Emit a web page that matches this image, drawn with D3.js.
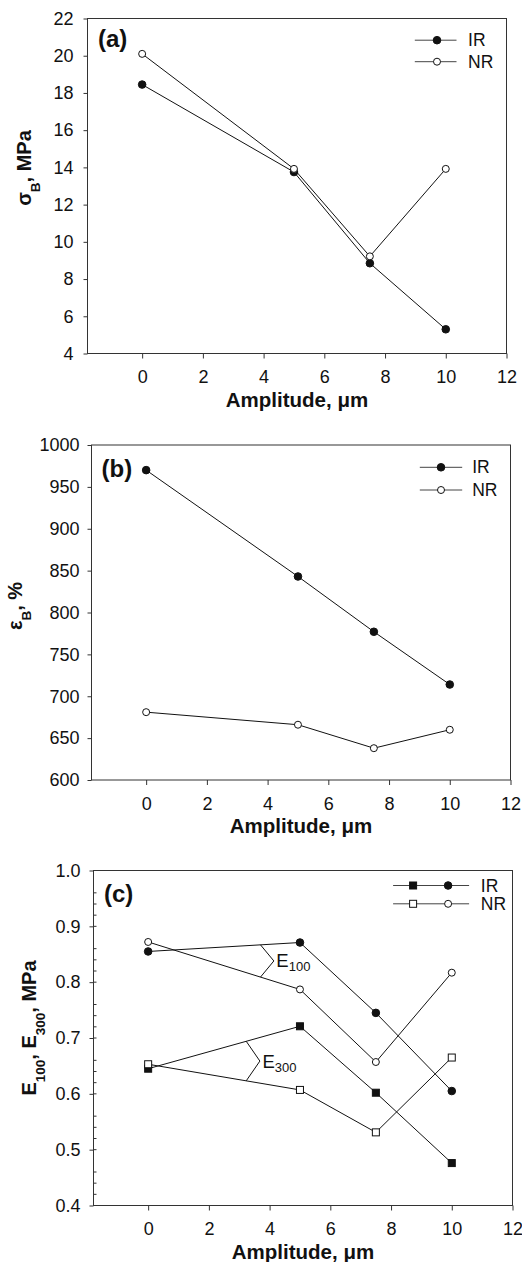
<!DOCTYPE html>
<html>
<head>
<meta charset="utf-8">
<script src="https://cdn.jsdelivr.net/npm/d3@7"></script>
<style>
  body { margin: 0; background: #fff; }
  svg { display: block; font-family: "Liberation Sans", Arial, Helvetica, sans-serif; }
</style>
</head>
<body>
<div id="chart"></div>
<script>
const width = 522,
  height = 1262,
  plotW = 419,
  plotH = 335;

// amplitude, µm
const amplitude = [0, 5, 7.5, 10];

// (a) tensile strength, MPa
const sigmaIR = [18.45, 13.75, 8.85, 5.3];
const sigmaNR = [20.1, 13.92, 9.22, 13.92];

// (b) elongation at break, %
const epsIR = [970, 843, 777, 714];
const epsNR = [681, 666, 638, 660];

// (c) moduli, MPa
const e100IR = [0.855, 0.871, 0.745, 0.605];
const e100NR = [0.872, 0.787, 0.657, 0.817];
const e300IR = [0.645, 0.721, 0.602, 0.476];
const e300NR = [0.653, 0.607, 0.531, 0.665];

const xTicks = [0, 2, 4, 6, 8, 10, 12];
const yTicksA = [4, 6, 8, 10, 12, 14, 16, 18, 20, 22];
const yTicksB = [600, 650, 700, 750, 800, 850, 900, 950, 1000];
const yTicksC = [0.4, 0.5, 0.6, 0.7, 0.8, 0.9, 1.0];

const ink = "#111";

const svg = d3.select("#chart")
  .append("svg")
  .attr("width", width)
  .attr("height", height);

function drawPanel(p) {
  const g = svg.append("g")
    .attr("transform", "translate(" + p.left + "," + p.top + ")");

  const x = d3.scaleLinear().domain([-1.8, 12]).range([0, plotW]);
  const y = d3.scaleLinear().domain(p.yDomain).range([plotH, 0]);

  // x axis
  const xa = g.append("g")
    .attr("transform", "translate(0," + plotH + ")")
    .call(d3.axisBottom(x).tickValues(xTicks).tickSize(5).tickSizeOuter(0).tickPadding(12));
  // y axis
  const ya = g.append("g")
    .call(d3.axisLeft(y).tickValues(p.yTicks).tickFormat(p.fmt).tickSize(4).tickSizeOuter(0).tickPadding(p.pad));

  [xa, ya].forEach(a => {
    a.select(".domain").remove();
    a.selectAll("line").attr("stroke", "#333");
    a.selectAll("text").attr("font-size", 18).attr("fill", ink).attr("font-family", null);
  });

  // minor ticks (inward)
  if (p.minor) {
    g.selectAll(".minor")
      .data(p.minor)
      .join("line")
      .attr("class", "minor")
      .attr("x1", 0).attr("x2", 3)
      .attr("y1", d => y(d)).attr("y2", d => y(d))
      .attr("stroke", "#333");
  }

  // frame
  g.append("rect")
    .attr("width", plotW)
    .attr("height", plotH)
    .attr("fill", "none")
    .attr("stroke", "#333")
    .attr("stroke-width", 1);

  // x title
  g.append("text")
    .attr("x", plotW / 2)
    .attr("y", plotH + 53)
    .attr("text-anchor", "middle")
    .attr("font-size", 20.5)
    .attr("font-weight", "bold")
    .attr("fill", ink)
    .text("Amplitude, μm");

  // y title
  const yt = svg.append("text")
    .attr("transform", "translate(" + p.yTitle[0] + "," + p.yTitle[1] + ") rotate(-90)")
    .attr("text-anchor", "middle")
    .attr("font-size", 20)
    .attr("font-weight", "bold")
    .attr("fill", ink);
  p.yTitleParts.forEach(part => {
    if (part.sub) {
      yt.append("tspan").attr("font-size", 13.5).attr("dy", 9).text(part.t);
    } else {
      yt.append("tspan").attr("dy", part.back ? -9 : 0).text(part.t);
    }
  });

  // panel label
  g.append("text")
    .attr("x", p.label[0])
    .attr("y", p.label[1])
    .attr("font-size", 24)
    .attr("font-weight", "bold")
    .attr("fill", ink)
    .text(p.labelText);

  const line = d3.line()
    .x(d => x(d[0]))
    .y(d => y(d[1]));

  p.series.forEach(s => {
    const pts = amplitude.map((a, i) => [a, s.values[i]]);
    g.append("path")
      .datum(pts)
      .attr("d", line)
      .attr("fill", "none")
      .attr("stroke", ink)
      .attr("stroke-width", 1);
  });

  p.series.forEach(s => {
    const pts = amplitude.map((a, i) => [a, s.values[i]]);
    drawMarkers(g, pts.map(d => [x(d[0]), y(d[1])]), s.shape, s.filled);
  });

  return { g, x, y };
}

function drawMarkers(g, pts, shape, filled) {
  if (shape === "circle") {
    g.selectAll(null)
      .data(pts)
      .join("circle")
      .attr("cx", d => d[0])
      .attr("cy", d => d[1])
      .attr("r", filled ? 3.8 : 3.5)
      .attr("fill", filled ? ink : "#fff")
      .attr("stroke", ink)
      .attr("stroke-width", 1);
  } else {
    g.selectAll(null)
      .data(pts)
      .join("rect")
      .attr("x", d => d[0] - 3.5)
      .attr("y", d => d[1] - 3.5)
      .attr("width", 7)
      .attr("height", 7)
      .attr("fill", filled ? ink : "#fff")
      .attr("stroke", ink)
      .attr("stroke-width", 1);
  }
}

function legend(g, rows, x0, x1, textX) {
  rows.forEach(r => {
    g.append("line")
      .attr("x1", plotW - x0).attr("x2", plotW - x1)
      .attr("y1", r.y).attr("y2", r.y)
      .attr("stroke", "#444");
    r.marks.forEach(m => drawMarkers(g, [[plotW - m.dx, r.y]], m.shape, m.filled));
    g.append("text")
      .attr("x", plotW - textX)
      .attr("y", r.y + 6)
      .attr("font-size", 17.5)
      .attr("fill", ink)
      .text(r.name);
  });
}

function interp(xs, ys, xv) {
  for (let i = 0; i < xs.length - 1; i++) {
    if (xv >= xs[i] && xv <= xs[i + 1]) {
      const t = (xv - xs[i]) / (xs[i + 1] - xs[i]);
      return ys[i] + t * (ys[i + 1] - ys[i]);
    }
  }
}

function bracket(P, a, b, tipX, apexX, label) {
  const ya = interp(amplitude, a, tipX), yb = interp(amplitude, b, tipX);
  const pts = [
    [P.x(tipX), P.y(ya)],
    [P.x(apexX), P.y((ya + yb) / 2)],
    [P.x(tipX), P.y(yb)]
  ];
  P.g.append("path")
    .attr("d", d3.line()(pts))
    .attr("fill", "none")
    .attr("stroke", ink)
    .attr("stroke-width", 1);
  const t = P.g.append("text")
    .attr("x", pts[1][0] + 2.5)
    .attr("y", pts[1][1] + 6.5)
    .attr("font-size", 18.5)
    .attr("fill", ink);
  t.append("tspan").text("E");
  t.append("tspan").attr("font-size", 13).attr("dy", 4).text(label);
}

// (a)
const A = drawPanel({
  left: 87.5, top: 18.5,
  yDomain: [4, 22], yTicks: yTicksA, fmt: d3.format("d"), pad: 10,
  yTitle: [31, 168],
  yTitleParts: [{ t: "σ" }, { t: "B", sub: true }, { t: ", MPa", back: true }],
  label: [10.5, 28.5], labelText: "(a)",
  series: [
    { values: sigmaIR, shape: "circle", filled: true },
    { values: sigmaNR, shape: "circle", filled: false }
  ]
});
legend(A.g, [
  { y: 21.7, name: "IR", marks: [{ dx: 69.5, shape: "circle", filled: true }] },
  { y: 43.2, name: "NR", marks: [{ dx: 69.5, shape: "circle", filled: false }] }
], 91.7, 50, 38.4);

// (b)
const B = drawPanel({
  left: 91.5, top: 445,
  yDomain: [600, 1000], yTicks: yTicksB, fmt: d3.format("d"), pad: 8,
  yTitle: [22, 606],
  yTitleParts: [{ t: "ε" }, { t: "B", sub: true }, { t: ", %", back: true }],
  label: [10, 31.5], labelText: "(b)",
  series: [
    { values: epsIR, shape: "circle", filled: true },
    { values: epsNR, shape: "circle", filled: false }
  ]
});
legend(B.g, [
  { y: 22.3, name: "IR", marks: [{ dx: 69.5, shape: "circle", filled: true }] },
  { y: 45, name: "NR", marks: [{ dx: 69.5, shape: "circle", filled: false }] }
], 90.7, 48.3, 38.3);

// (c)
const C = drawPanel({
  left: 93.5, top: 870.5,
  yDomain: [0.4, 1.0], yTicks: yTicksC, fmt: d3.format(".1f"), pad: 9,
  minor: d3.range(0.42, 1.0, 0.02).filter((d, i) => (i + 1) % 5 !== 4),
  yTitle: [36, 1028],
  yTitleParts: [{ t: "E" }, { t: "100", sub: true }, { t: ", E", back: true }, { t: "300", sub: true }, { t: ", MPa", back: true }],
  label: [10.5, 31], labelText: "(c)",
  series: [
    { values: e100IR, shape: "circle", filled: true },
    { values: e100NR, shape: "circle", filled: false },
    { values: e300IR, shape: "square", filled: true },
    { values: e300NR, shape: "square", filled: false }
  ]
});
legend(C.g, [
  { y: 15, name: "IR", marks: [{ dx: 99.4, shape: "square", filled: true }, { dx: 64.4, shape: "circle", filled: true }] },
  { y: 33.3, name: "NR", marks: [{ dx: 99.4, shape: "square", filled: false }, { dx: 64.4, shape: "circle", filled: false }] }
], 119.4, 43.4, 31.7);

bracket(C, e100IR, e100NR, 3.7, 4.14, "100");
bracket(C, e300IR, e300NR, 3.23, 3.68, "300");
</script>
</body>
</html>
